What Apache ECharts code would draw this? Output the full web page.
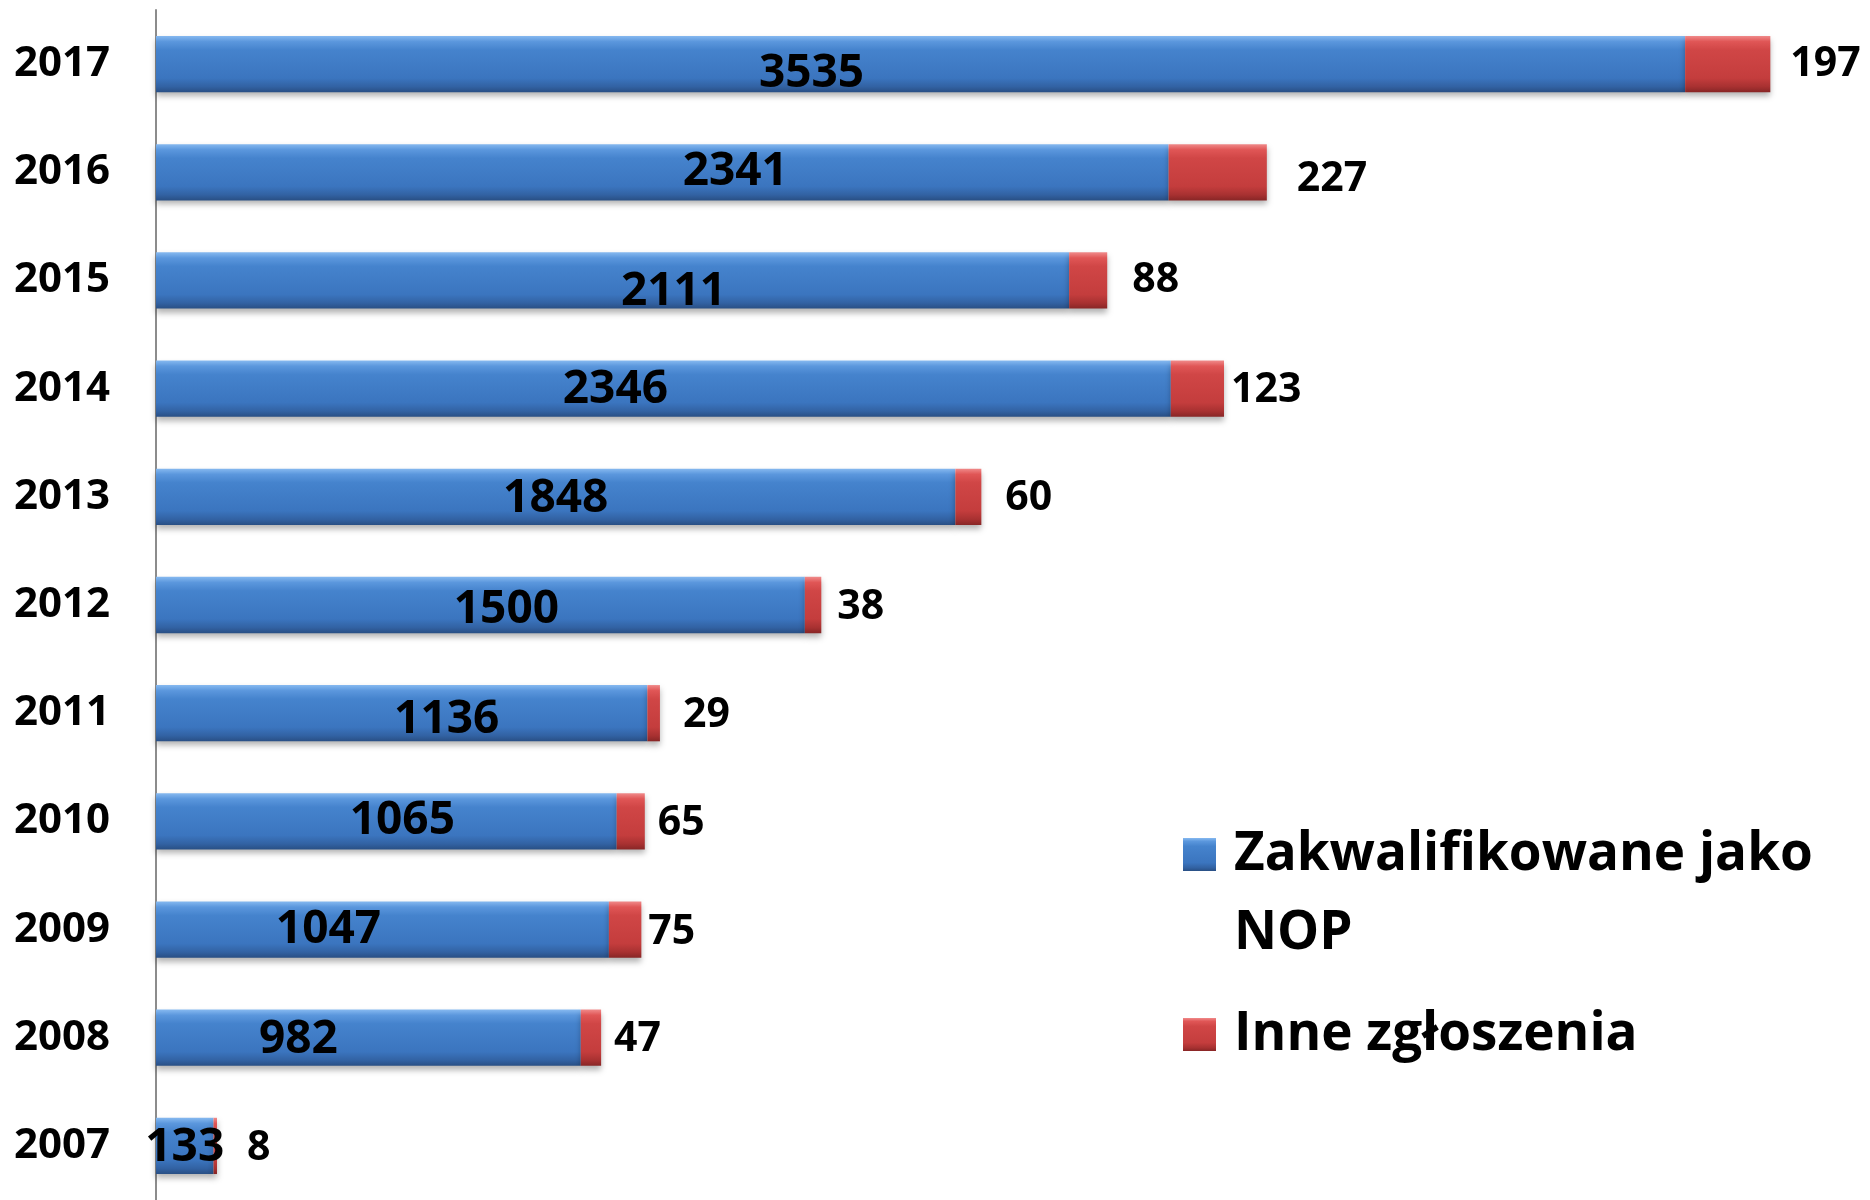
<!DOCTYPE html>
<html>
<head>
<meta charset="utf-8">
<script src="https://cdn.jsdelivr.net/npm/echarts@6/dist/echarts.min.js"></script>
<style>
  html, body { margin: 0; padding: 0; background: #fff; }
  #chart { width: 1870px; height: 1200px; }
</style>
</head>
<body>
<div id="chart"></div>
<script>
// lata, od dołu do góry
const years = ['2007', '2008', '2009', '2010', '2011', '2012', '2013', '2014', '2015', '2016', '2017'];
const nop = [133, 982, 1047, 1065, 1136, 1500, 1848, 2346, 2111, 2341, 3535];
const other = [8, 47, 75, 65, 29, 38, 60, 123, 88, 227, 197];

const nopName = 'Zakwalifikowane jako NOP';
const otherName = 'Inne zgłoszenia';

// przesunięcia etykiet jak w oryginale (px)
const blueNudge = [[0, 2], [-70, 2], [-54, 0], [16, 0], [45, 7], [26, 5], [0, 2], [-48, 1], [61, 11], [73, 0], [-109, 10]];
const redNudge = [[30, 2], [13, 2], [7, 3], [13, 2], [23, 2], [16, 2], [24, 2], [7, 2], [25, 0], [30, 7], [20, 0]];

const FONT = 'Open Sans';

const blueFill = new echarts.graphic.LinearGradient(0, 0, 0, 1, [
  { offset: 0, color: '#86b9f0' },
  { offset: 0.1, color: '#5b97dd' },
  { offset: 0.25, color: '#4583cd' },
  { offset: 0.75, color: '#3b75bf' },
  { offset: 0.9, color: '#3262a3' },
  { offset: 1, color: '#294f84' }
]);
const redFill = new echarts.graphic.LinearGradient(0, 0, 0, 1, [
  { offset: 0, color: '#f08a8a' },
  { offset: 0.1, color: '#e05656' },
  { offset: 0.25, color: '#d04646' },
  { offset: 0.75, color: '#c43d3d' },
  { offset: 0.9, color: '#a83131' },
  { offset: 1, color: '#882626' }
]);

const chart = echarts.init(document.getElementById('chart'));

chart.setOption({
  animation: false,
  textStyle: { fontFamily: FONT },
  grid: { left: 156, right: 27, top: 10, bottom: -4, containLabel: false },
  xAxis: {
    type: 'value',
    min: 0,
    max: 3900,
    show: false
  },
  yAxis: {
    type: 'category',
    data: years,
    axisLine: { show: true, lineStyle: { color: '#8c8c8c', width: 2 } },
    axisTick: { show: false },
    axisLabel: { color: '#000', fontSize: 42, fontWeight: 'bold', fontFamily: FONT, margin: 46 }
  },
  legend: {
    orient: 'vertical',
    left: 1183,
    top: 736,
    padding: 0,
    itemGap: 22,
    itemWidth: 33,
    itemHeight: 33,
    icon: 'rect',
    // pusta linia na górze, by ikonka stała przy pierwszym wierszu
    formatter: name => name === nopName ? ' \nZakwalifikowane jako\nNOP' : name,
    textStyle: { color: '#000', fontSize: 53, fontWeight: 'bold', fontFamily: FONT, lineHeight: 79, padding: [0, 0, 0, 13] },
    data: [nopName, otherName]
  },
  series: [
    {
      name: nopName,
      type: 'bar',
      stack: 'all',
      barWidth: '52%',
      itemStyle: {
        color: blueFill,
        shadowBlur: 6,
        shadowColor: 'rgba(0,0,0,0.3)',
        shadowOffsetY: 4
      },
      label: {
        show: true,
        position: 'inside',
        color: '#000',
        fontSize: 46,
        fontWeight: 'bold',
        fontFamily: FONT
      },
      data: nop.map((v, i) => ({ value: v, label: { offset: blueNudge[i] } }))
    },
    {
      name: otherName,
      type: 'bar',
      stack: 'all',
      itemStyle: {
        color: redFill,
        shadowBlur: 6,
        shadowColor: 'rgba(0,0,0,0.3)',
        shadowOffsetY: 4
      },
      label: {
        show: true,
        position: 'right',
        distance: 0,
        color: '#000',
        fontSize: 41,
        fontWeight: 'bold',
        fontFamily: FONT
      },
      data: other.map((v, i) => ({ value: v, label: { offset: redNudge[i] } }))
    }
  ]
});
</script>
</body>
</html>
